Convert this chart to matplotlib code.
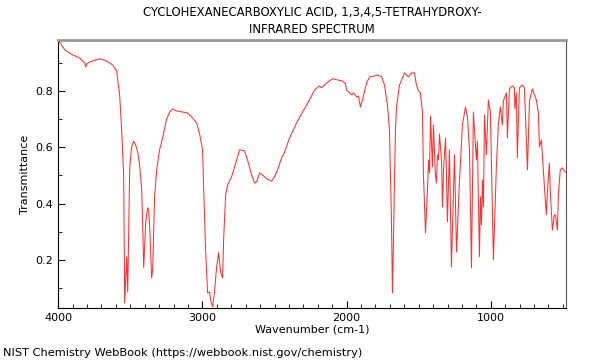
import numpy as np
import matplotlib
matplotlib.use("Agg")
import matplotlib.pyplot as plt
from matplotlib.ticker import MultipleLocator

# Spectre (nombre d'onde en cm-1, transmittance)
wavenumber = [
    4000, 3955, 3900, 3851, 3816, 3809, 3802, 3782, 3712, 3664, 3622, 3595,
    3574, 3560, 3546, 3539, 3532, 3525, 3518, 3511, 3504, 3491, 3477, 3463,
    3449, 3435, 3421, 3414, 3407, 3394, 3387, 3380, 3373, 3366, 3352, 3345,
    3331, 3317, 3297, 3276, 3248, 3227, 3206, 3179, 3137, 3103, 3075, 3040,
    3019, 2999, 2992, 2978, 2964, 2950, 2943, 2929, 2916, 2902, 2888, 2874,
    2860, 2853, 2839, 2825, 2798, 2777, 2742, 2708, 2687, 2659, 2638, 2624,
    2604, 2583, 2555, 2520, 2500, 2479, 2451, 2430, 2396, 2347, 2306, 2257,
    2222, 2188, 2174, 2139, 2098, 2028, 2008, 2001, 1966, 1952, 1931, 1918,
    1904, 1890, 1862, 1841, 1807, 1786, 1758, 1737, 1717, 1703, 1689, 1682,
    1675, 1668, 1661, 1654, 1633, 1599, 1571, 1550, 1529, 1516, 1502, 1488,
    1474, 1467, 1453, 1439, 1432, 1425, 1418, 1411, 1405, 1398, 1384, 1377,
    1370, 1363, 1356, 1342, 1335, 1328, 1314, 1308, 1301, 1287, 1273, 1252,
    1238, 1218, 1197, 1176, 1162, 1148, 1134, 1121, 1100, 1093, 1079, 1072,
    1065, 1058, 1051, 1044, 1031, 1017, 1003, 982, 961, 947, 934, 920,
    913, 892, 885, 871, 850, 836, 833, 823, 816, 802, 781, 767,
    746, 732, 712, 684, 670, 663, 649, 636, 615, 608, 594, 587,
    573, 559, 552, 538, 531, 518, 504, 497, 483,
]
transmittance = [
    0.981, 0.946, 0.928, 0.917, 0.899, 0.885, 0.896, 0.903, 0.914, 0.906, 0.892, 0.871,
    0.786, 0.662, 0.502, 0.047, 0.129, 0.211, 0.086, 0.306, 0.527, 0.601, 0.622, 0.608,
    0.583, 0.537, 0.449, 0.324, 0.172, 0.324, 0.360, 0.385, 0.378, 0.324, 0.136, 0.165,
    0.431, 0.520, 0.591, 0.633, 0.701, 0.725, 0.736, 0.729, 0.725, 0.722, 0.708, 0.686,
    0.647, 0.591, 0.466, 0.236, 0.083, 0.086, 0.058, 0.033, 0.086, 0.172, 0.225, 0.157,
    0.136, 0.271, 0.431, 0.466, 0.495, 0.530, 0.591, 0.587, 0.555, 0.502, 0.473, 0.477,
    0.509, 0.502, 0.488, 0.480, 0.495, 0.520, 0.562, 0.583, 0.633, 0.686, 0.725, 0.768,
    0.804, 0.818, 0.811, 0.828, 0.843, 0.835, 0.825, 0.804, 0.786, 0.793, 0.779, 0.782,
    0.743, 0.768, 0.828, 0.850, 0.853, 0.857, 0.850, 0.821, 0.750, 0.662, 0.342, 0.083,
    0.271, 0.484, 0.662, 0.743, 0.821, 0.864, 0.850, 0.864, 0.864, 0.821, 0.800, 0.793,
    0.725, 0.502, 0.296, 0.449, 0.555, 0.509, 0.711, 0.615, 0.530, 0.679, 0.502, 0.473,
    0.573, 0.555, 0.647, 0.555, 0.388, 0.520, 0.633, 0.520, 0.335, 0.591, 0.175, 0.573,
    0.228, 0.473, 0.679, 0.743, 0.708, 0.591, 0.172, 0.725, 0.555, 0.622, 0.211, 0.424,
    0.324, 0.484, 0.388, 0.715, 0.573, 0.768, 0.725, 0.200, 0.537, 0.686, 0.743, 0.679,
    0.764, 0.793, 0.633, 0.807, 0.818, 0.811, 0.736, 0.793, 0.562, 0.811, 0.821, 0.811,
    0.520, 0.764, 0.807, 0.768, 0.722, 0.601, 0.626, 0.520, 0.360, 0.438, 0.544, 0.438,
    0.306, 0.360, 0.360, 0.306, 0.438, 0.520, 0.527, 0.520, 0.512,
]

title_lines = ["CYCLOHEXANECARBOXYLIC ACID, 1,3,4,5-TETRAHYDROXY-", "INFRARED SPECTRUM"]
x_label = "Wavenumber (cm-1)"
y_label = "Transmittance"
credit = "NIST Chemistry WebBook (https://webbook.nist.gov/chemistry)"


def plot_spectrum(w, t):
    fig = plt.figure(figsize=(6, 3.6), dpi=100)
    ax = fig.add_axes([0.097, 0.145, 0.846, 0.744])
    ax.plot(w, t, color="#ff3030", lw=0.75)

    ax.set_xlim(4000, 480)
    ax.set_ylim(0.03, 0.981)
    ax.xaxis.set_major_locator(MultipleLocator(1000))
    ax.xaxis.set_minor_locator(MultipleLocator(100))
    ax.yaxis.set_major_locator(MultipleLocator(0.2))
    ax.yaxis.set_minor_locator(MultipleLocator(0.1))
    ax.tick_params(which="both", direction="in", labelsize=8, top=False, right=False)
    ax.tick_params(which="major", length=5)
    ax.tick_params(which="minor", length=3)

    ax.spines["top"].set_color("#999999")
    ax.spines["top"].set_linewidth(2)
    ax.spines["right"].set_color("#555555")

    ax.set_xlabel(x_label, fontsize=8, labelpad=1)
    ax.set_ylabel(y_label, fontsize=8, labelpad=4)
    fig.text(0.52, 0.965, title_lines[0], ha="center", va="center", fontsize=8.4)
    fig.text(0.52, 0.917, title_lines[1], ha="center", va="center", fontsize=8.4)
    fig.text(0.005, 0.005, credit, ha="left", va="bottom", fontsize=8.2)

    fig.savefig("out.png", dpi=100)


plot_spectrum(np.array(wavenumber), np.array(transmittance))
